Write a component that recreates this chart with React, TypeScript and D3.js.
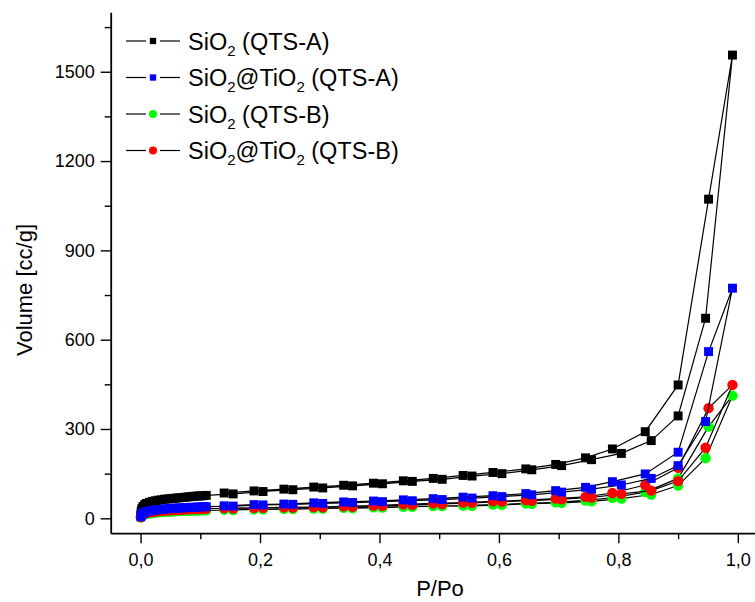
import { axisBottom, axisLeft, line, scaleLinear, select, symbol, symbolCircle, symbolSquare } from "d3"
import { useEffect, useRef } from "react"

// relative pressure points, shared by all four isotherms
const adsP = [0.0005, 0.001, 0.002, 0.004, 0.007, 0.01, 0.015, 0.02, 0.025, 0.03, 0.035, 0.04, 0.045, 0.05, 0.055,
    0.06, 0.065, 0.07, 0.075, 0.08, 0.085, 0.09, 0.095, 0.1, 0.105, 0.11, 0.155, 0.205, 0.255, 0.305, 0.355,
    0.405, 0.455, 0.505, 0.555, 0.605, 0.655, 0.705, 0.755, 0.805, 0.855, 0.9, 0.946, 0.991]
const desP = [0.951, 0.9, 0.845, 0.79, 0.745, 0.695, 0.645, 0.59, 0.54, 0.49, 0.44, 0.39, 0.34, 0.29, 0.24, 0.19, 0.14]

// volumes, cc/g
const sioAAds = [12, 22, 32, 40, 46, 50, 54, 57, 59, 61, 62, 64, 65, 66, 67, 68, 69, 70, 71, 72, 73, 74, 75, 75, 76, 77,
    82, 90, 96, 102, 109, 116, 124, 131, 142, 150, 163, 177, 197, 218, 261, 344, 672, 1556]
const sioADes = [1072, 448, 291, 233, 203, 181, 166, 154, 144, 134, 126, 118, 111, 105, 98, 92, 85]

const tioAAds = [5, 10, 14, 17, 20, 22, 25, 27, 28, 29, 30, 31, 32, 33, 34, 34, 35, 35, 36, 36, 37, 37, 38, 38, 39, 39,
    41, 45, 47, 50, 53, 56, 59, 63, 68, 73, 79, 88, 98, 112, 134, 177, 325, 773]
const tioADes = [560, 222, 149, 123, 104, 93, 83, 76, 71, 66, 62, 58, 55, 52, 48, 46, 42]

const sioBAds = [3, 6, 9, 11, 13, 15, 17, 18, 19, 20, 21, 22, 22, 23, 23, 24, 24, 25, 25, 25, 26, 26, 26, 27, 27, 27,
    28, 30, 31, 33, 34, 36, 39, 41, 42, 45, 49, 52, 57, 66, 80, 110, 202, 412]
const sioBDes = [308, 134, 88, 69, 60, 54, 50, 46, 43, 41, 39, 37, 35, 33, 32, 30, 29]

const tioBAds = [4, 8, 11, 14, 16, 18, 20, 22, 23, 24, 25, 26, 27, 27, 28, 28, 29, 29, 30, 30, 31, 31, 31, 32, 32, 33,
    33, 35, 36, 37, 39, 42, 45, 48, 52, 56, 59, 64, 70, 82, 93, 125, 237, 448]
const tioBDes = [370, 170, 112, 85, 72, 66, 61, 57, 53, 50, 47, 43, 40, 38, 37, 35, 34]

const yTicks = [0, 300, 600, 900, 1200, 1500]
const yMinor = [150, 450, 750, 1050, 1350, 1650]
const xTicks = [0, 0.2, 0.4, 0.6, 0.8, 1.0]
const xMinor = [0.1, 0.3, 0.5, 0.7, 0.9]

const series = [
    { key: 'sioA', name: 'SiO', tail: ' (QTS-A)', ti: false, color: '#000000', shape: 'square', ads: sioAAds, des: sioADes },
    { key: 'tioA', name: 'SiO', tail: ' (QTS-A)', ti: true, color: '#0000ff', shape: 'square', ads: tioAAds, des: tioADes },
    { key: 'sioB', name: 'SiO', tail: ' (QTS-B)', ti: false, color: '#00ff00', shape: 'circle', ads: sioBAds, des: sioBDes },
    { key: 'tioB', name: 'SiO', tail: ' (QTS-B)', ti: true, color: '#ff0000', shape: 'circle', ads: tioBAds, des: tioBDes },
]
const drawOrder = ['sioA', 'sioB', 'tioB', 'tioA']

const W = 755
const H = 602
const FONT = 'Arial, "Liberation Sans", sans-serif'

const App = () => {
    const ref = useRef(null)

    useEffect(() => {
        const svg = select(ref.current)
        svg.selectAll('*').remove()

        const x = scaleLinear().domain([-0.05, 1.05]).range([110.7, 767.7])
        const y = scaleLinear().domain([-50, 1700]).range([533.2, 12.2])

        const yAxis = svg.append('g').attr('transform', 'translate(110.7,0)')
        yAxis.call(axisLeft(y).tickValues(yTicks).tickSize(10).tickSizeOuter(0).tickPadding(6).tickFormat(d => String(d)))
        svg.append('g').attr('transform', 'translate(110.7,0)')
            .call(axisLeft(y).tickValues(yMinor).tickSize(6).tickSizeOuter(0).tickFormat(() => ''))
            .select('.domain').remove()

        const xAxis = svg.append('g').attr('transform', 'translate(0,533.2)')
        xAxis.call(axisBottom(x).tickValues(xTicks).tickSize(10).tickSizeOuter(0).tickPadding(10)
            .tickFormat(d => d.toFixed(1).replace('.', ',')))
        svg.append('g').attr('transform', 'translate(0,533.2)')
            .call(axisBottom(x).tickValues(xMinor).tickSize(6).tickSizeOuter(0).tickFormat(() => ''))
            .select('.domain').remove()

        svg.selectAll('.domain').attr('stroke-width', 1.8)
        svg.selectAll('.tick line').attr('stroke-width', 1.4)
        svg.selectAll('.tick text').attr('font-size', 18).attr('font-family', FONT).attr('fill', '#000')

        // axis titles
        svg.append('text')
            .attr('transform', 'translate(32,290) rotate(-90)')
            .attr('text-anchor', 'middle')
            .attr('font-size', 22).attr('font-family', FONT)
            .text('Volume [cc/g]')
        svg.append('text')
            .attr('x', 440).attr('y', 596)
            .attr('text-anchor', 'middle')
            .attr('font-size', 22).attr('font-family', FONT)
            .text('P/Po')

        const plot = svg.append('g')
        const path = line().x(d => x(d[0])).y(d => y(d[1]))

        drawOrder.forEach(k => {
            const s = series.find(d => d.key === k)
            const pts = adsP.map((p, i) => [p, s.ads[i]]).concat(desP.map((p, i) => [p, s.des[i]]))
            const g = plot.append('g')
            g.append('path')
                .attr('d', path(pts))
                .attr('fill', 'none')
                .attr('stroke', '#000')
                .attr('stroke-width', 1.2)
            const sym = s.shape === 'square' ? symbol(symbolSquare, 80) : symbol(symbolCircle, 85)
            g.selectAll('.pt')
                .data(pts)
                .join('path')
                .attr('class', 'pt')
                .attr('transform', d => `translate(${x(d[0])},${y(d[1])})`)
                .attr('d', sym)
                .attr('fill', s.color)
        })

        // legend
        const lg = svg.append('g')
        series.forEach((s, i) => {
            const base = 49.5 + i * 36.5
            const cy = base - 8.5
            lg.append('line').attr('x1', 126).attr('x2', 146).attr('y1', cy).attr('y2', cy).attr('stroke', '#000').attr('stroke-width', 1.2)
            lg.append('line').attr('x1', 160).attr('x2', 180).attr('y1', cy).attr('y2', cy).attr('stroke', '#000').attr('stroke-width', 1.2)
            lg.append('path')
                .attr('transform', `translate(153,${cy})`)
                .attr('d', s.shape === 'square' ? symbol(symbolSquare, 40) : symbol(symbolCircle, 50))
                .attr('fill', s.color)
            const t = lg.append('text').attr('x', 188).attr('y', base).attr('font-size', 23.5).attr('font-family', FONT)
            t.append('tspan').text(s.name)
            t.append('tspan').attr('font-size', 15).attr('dy', 6).text('2')
            if (s.ti) {
                t.append('tspan').attr('dy', -6).text('@TiO')
                t.append('tspan').attr('font-size', 15).attr('dy', 6).text('2')
            }
            t.append('tspan').attr('dy', -6).text(s.tail)
        })
    }, [])

    return (
        <svg ref={ref} width={W} height={H} style={{ position: 'absolute', left: 0, top: 0, background: '#fff' }} />
    )
}

export default App
